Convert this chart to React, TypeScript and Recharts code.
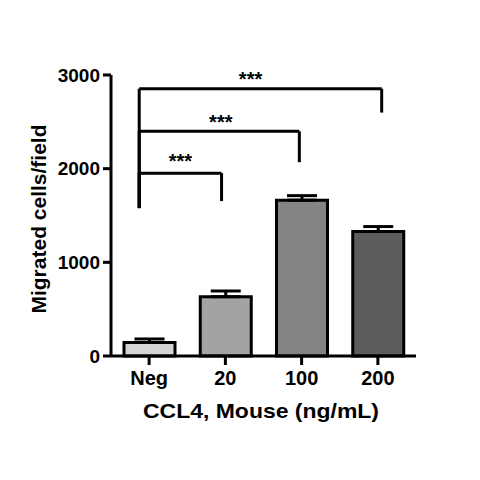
import React from "react";
import {
  BarChart,
  Bar,
  Cell,
  XAxis,
  YAxis,
  ErrorBar,
  ReferenceLine,
  ReferenceDot,
} from "recharts";

// migrated cells per field
const categories = ["Neg", "20", "100", "200"];
const meanCells = [144, 633, 1664, 1329];
const semCells = [38, 61, 48, 53];
const yTicks = [0, 1000, 2000, 3000];

// significance brackets (all vs Neg)
const sigLabels = ["***", "***", "***"];
const bracketLevels = [1952, 2399, 2854];
const bracketDrops = [1654, 2069, 2599];
const bracketLegBottom = 1579;

// bracket geometry in axis units
const BRACKET_LEFT = -0.13;
const BRACKET_RIGHT = [0.95, 1.97, 3.05];
const STAR_X = [0.41, 0.94, 1.33];
const STAR_Y = [2011, 2419, 2884];

const BAR_FILLS = ["#d4d4d4", "#a3a3a6", "#848484", "#5c5c5c"];
const FONT = "'Liberation Sans', Arial, sans-serif";

const data = categories.map((name, i) => ({
  idx: i,
  name,
  mean: meanCells[i],
  err: [0, semCells[i]],
}));

const line = { stroke: "#000", strokeWidth: 3 };

export default function App() {
  return (
    <div
      style={{
        position: "absolute",
        left: 0,
        top: 0,
        width: 480,
        height: 480,
        background: "#fff",
      }}
    >
      <BarChart
        width={480}
        height={480}
        data={data}
        margin={{ top: 75, right: 64, bottom: 64, left: 20 }}
      >
        <XAxis
          type="number"
          dataKey="idx"
          domain={[-0.5, 3.5]}
          ticks={[0, 1, 2, 3]}
          interval={0}
          tickFormatter={(v) => categories[v]}
          height={60}
          axisLine={line}
          tickLine={line}
          tickSize={9}
          tickMargin={6}
          tick={{ fill: "#000", fontSize: 20, fontWeight: "bold", fontFamily: FONT }}
        />
        <YAxis
          domain={[0, 3000]}
          ticks={yTicks}
          width={91}
          axisLine={line}
          tickLine={line}
          tickSize={8}
          tickMargin={3}
          tick={{ fill: "#000", fontSize: 19, fontWeight: "bold", fontFamily: FONT }}
        />
        <Bar
          dataKey="mean"
          barSize={51}
          stroke="#000"
          strokeWidth={3}
          isAnimationActive={false}
        >
          {data.map((d, i) => (
            <Cell key={d.name} fill={BAR_FILLS[i]} />
          ))}
          <ErrorBar
            dataKey="err"
            direction="y"
            width={15}
            stroke="#000"
            strokeWidth={3}
            isAnimationActive={false}
          />
        </Bar>
        {bracketLevels.map((lvl, i) => (
          <ReferenceLine
            key={`h${i}`}
            segment={[
              { x: BRACKET_LEFT, y: lvl },
              { x: BRACKET_RIGHT[i], y: lvl },
            ]}
            ifOverflow="visible"
            {...line}
          />
        ))}
        {bracketLevels.map((lvl, i) => (
          <ReferenceLine
            key={`l${i}`}
            segment={[
              { x: BRACKET_LEFT, y: lvl },
              { x: BRACKET_LEFT, y: bracketLegBottom },
            ]}
            ifOverflow="visible"
            {...line}
          />
        ))}
        {bracketLevels.map((lvl, i) => (
          <ReferenceLine
            key={`r${i}`}
            segment={[
              { x: BRACKET_RIGHT[i], y: lvl },
              { x: BRACKET_RIGHT[i], y: bracketDrops[i] },
            ]}
            ifOverflow="visible"
            {...line}
          />
        ))}
        {sigLabels.map((s, i) => (
          <ReferenceDot
            key={`s${i}`}
            x={STAR_X[i]}
            y={STAR_Y[i]}
            r={0}
            ifOverflow="visible"
            shape={(p: any) => (
              <text
                x={p.cx}
                y={p.cy}
                textAnchor="middle"
                fontFamily={FONT}
                fontWeight="bold"
                fontSize={20}
                fill="#000"
              >
                {s}
              </text>
            )}
          />
        ))}
      </BarChart>
      <svg
        width={480}
        height={480}
        style={{ position: "absolute", left: 0, top: 0, pointerEvents: "none" }}
      >
        <text
          x={261}
          y={418}
          textAnchor="middle"
          textLength={236}
          lengthAdjust="spacingAndGlyphs"
          fontFamily={FONT}
          fontWeight="bold"
          fontSize={21}
          fill="#000"
        >
          CCL4, Mouse (ng/mL)
        </text>
        <text
          x={46}
          y={219}
          transform="rotate(-90, 46, 219)"
          textAnchor="middle"
          fontFamily={FONT}
          fontWeight="bold"
          fontSize={21}
          fill="#000"
        >
          Migrated cells/field
        </text>
      </svg>
    </div>
  );
}
